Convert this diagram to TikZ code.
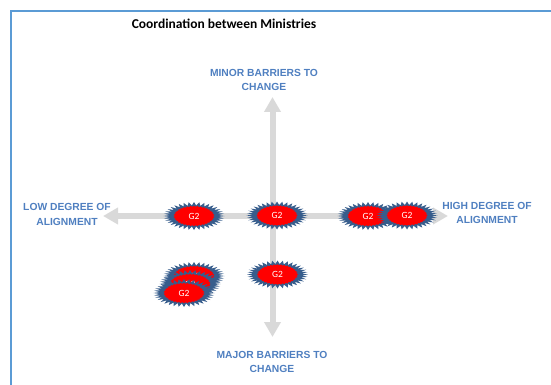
\documentclass[tikz,border=0pt]{standalone}
\usepackage{fontspec}
\setmainfont{Carlito}
\newfontfamily\labelfont{Liberation Sans}
\usetikzlibrary{arrows.meta}
\definecolor{framecol}{HTML}{5B9BD5}
\definecolor{labcol}{HTML}{4F7FC0}
\definecolor{burstblue}{HTML}{375D8C}
\definecolor{axisgray}{HTML}{D9D9D9}
\tikzset{
  axis/.style={draw=axisgray, line width=6pt,
    {Triangle[width=16pt,length=15pt]}-{Triangle[width=16pt,length=15pt]}},
  axislabel/.style={text=labcol, font=\labelfont\bfseries\fontsize{10.3}{14.5}\selectfont, align=center, inner sep=0pt},
  titlestyle/.style={font=\bfseries\fontsize{13.5}{15}\selectfont, inner sep=0pt},
  gtext/.style={text=white, font=\fontsize{9.5}{10}\selectfont, inner sep=0pt},
  burst/.pic={
    \fill[burstblue] plot[domain=0:360, samples=73, variable=\t]
      ({(30.5-6*mod(round(\t/5),2))*cos(\t)},
       {(14-3.5*mod(round(\t/5),2))*sin(\t)}) -- cycle;
    \fill[red] plot[domain=0:360, samples=73, variable=\t]
      ({(20.5-1.5*mod(round(\t/5),2))*cos(\t)},
       {(10.2-1*mod(round(\t/5),2))*sin(\t)}) -- cycle;
    \node[gtext] (-g) at (0,0) {G2};
  }
}
\begin{document}
\begin{tikzpicture}[x=1pt, y=-1pt]
\useasboundingbox (0,0) rectangle (551,385);
% frame
\draw[framecol, line width=1.8pt] (11,390) -- (11,11) -- (556,11);
% title
\node[titlestyle] (title) at (224,24) {Coordination between Ministries};
% axes
\coordinate (ltip) at (103,216);
\coordinate (rtip) at (448,216);
\coordinate (ttip) at (272.5,97);
\coordinate (btip) at (272.5,337);
\draw[axis] (ltip) -- (rtip);
\draw[axis] (btip) -- (ttip);
% labels
\node[axislabel] (minor) at (264,80) {MINOR BARRIERS TO\\CHANGE};
\node[axislabel] (major) at (272,362) {MAJOR BARRIERS TO\\CHANGE};
\node[axislabel] (low) at (67,214.5) {LOW DEGREE OF\\ALIGNMENT};
\node[axislabel] (high) at (487,213) {HIGH DEGREE OF\\ALIGNMENT};
% bursts
\pic (b1) at (194,216) {burst};
\pic (b2) at (277,215.5) {burst};
\pic (b3) at (368,216) {burst};
\pic (b4) at (407,215.5) {burst};
\pic (b5) at (277.5,274.5) {burst};
\pic (b6) at (194,276) {burst};
\pic (b7) at (190,284) {burst};
\pic (b8) at (184,293) {burst};
\end{tikzpicture}
\end{document}
